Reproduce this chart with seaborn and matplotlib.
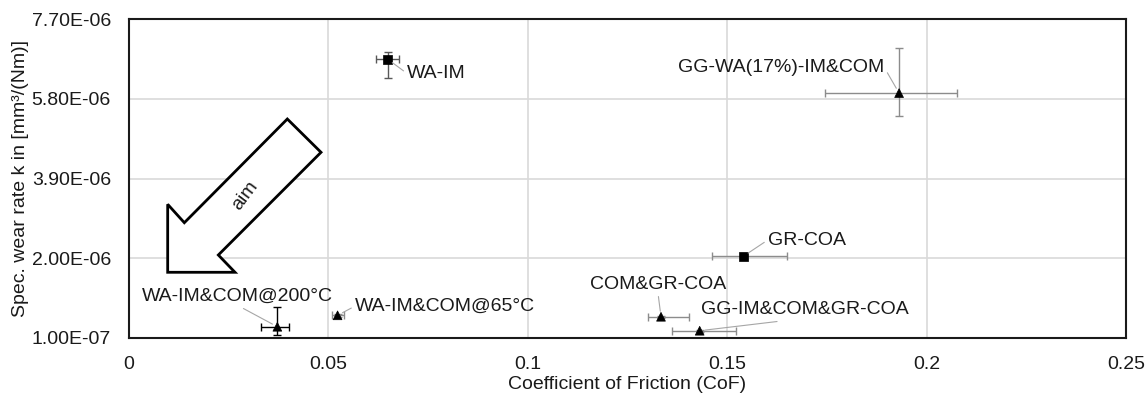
import matplotlib
matplotlib.use("Agg")
import matplotlib.pyplot as plt
import seaborn as sns
import pandas as pd
from matplotlib.patches import Polygon

# ---- data ----
names = ["WA-IM", "GG-WA(17%)-IM&COM", "GR-COA", "COM&GR-COA",
         "GG-IM&COM&GR-COA", "WA-IM&COM@200°C", "WA-IM&COM@65°C"]
cof = [0.0649, 0.1931, 0.1541, 0.1334, 0.1431, 0.0372, 0.0523]
wear = [6.74e-6, 5.935e-6, 2.05e-6, 6.06e-7, 2.73e-7, 3.68e-7, 6.4e-7]
cof_err_lo = [0.0029, 0.0185, 0.0080, 0.0033, 0.0070, 0.0040, 0.0015]
cof_err_hi = [0.0029, 0.0145, 0.0110, 0.0069, 0.0091, 0.0028, 0.0015]
wear_err_lo = [0.45e-6, 0.54e-6, 0.07e-6, 0.02e-6, 0.02e-6, 0.20e-6, 0.03e-6]
wear_err_hi = [0.18e-6, 1.07e-6, 0.07e-6, 0.02e-6, 0.02e-6, 0.46e-6, 0.03e-6]
shape = ["square", "triangle", "square", "triangle", "triangle", "triangle", "triangle"]

x_ticks = [0, 0.05, 0.1, 0.15, 0.2, 0.25]
x_ticklabels = ["0", "0.05", "0.1", "0.15", "0.2", "0.25"]
y_ticks = [1.0e-7, 2.0e-6, 3.9e-6, 5.8e-6, 7.7e-6]

# label placement (offset pixels from point) and leader anchor
label_offsets = [(19, -14), (-15, 26), (24, 16), (-3, 32), (1, 21), (-40, 30), (17, 9)]
label_ha = ["left", "right", "left", "center", "left", "center", "left"]
label_relpos = [(0, 0.5), (1, 0.5), (0, 0.5), (0.5, 0), (0.5, 0), (0.5, 0), (0, 0.5)]
err_colors = ["#595959", "#8c8c8c", "#8c8c8c", "#8c8c8c", "#8c8c8c", "#000000", "#8c8c8c"]

df = pd.DataFrame({"name": names, "cof": cof, "wear": wear, "shape": shape})

sns.set_style("white")
plt.rcParams["font.family"] = ["Liberation Sans", "DejaVu Sans"]
FS = 14

fig = plt.figure(figsize=(11.48, 3.97), dpi=100)
ax = fig.add_axes([129 / 1148, 59 / 397, 997 / 1148, 319 / 397])

# error bars
for i in range(len(names)):
    ax.errorbar([cof[i]], [wear[i]],
                xerr=[[cof_err_lo[i]], [cof_err_hi[i]]],
                yerr=[[wear_err_lo[i]], [wear_err_hi[i]]],
                fmt="none", ecolor=err_colors[i], elinewidth=1.0,
                capsize=3, capthick=1.0, zorder=3)

sns.scatterplot(data=df, x="cof", y="wear", style="shape",
                markers={"square": "s", "triangle": "^"},
                color="black", s=40, edgecolor="black", linewidth=0.5,
                legend=False, ax=ax, zorder=4)

# labels with leader lines
for i, n in enumerate(names):
    ax.annotate(n, xy=(cof[i], wear[i]), xytext=label_offsets[i],
                textcoords="offset pixels", ha=label_ha[i], va="center",
                fontsize=FS, color="#1a1a1a", zorder=5,
                arrowprops=dict(arrowstyle="-", color="#a6a6a6", lw=0.8,
                                shrinkA=0, shrinkB=4, relpos=label_relpos[i]))

ax.set_xlim(0, 0.25)
ax.set_ylim(1.0e-7, 7.7e-6)
ax.set_xticks(x_ticks)
ax.set_xticklabels(x_ticklabels)
ax.set_yticks(y_ticks)
ax.set_yticklabels([f"{v:.2E}" for v in y_ticks])
ax.tick_params(axis="both", labelsize=FS, length=0, pad=13, colors="#1a1a1a")
ax.grid(True, color="#d9d9d9", linewidth=1.2)
ax.set_axisbelow(True)
for sp in ax.spines.values():
    sp.set_color("#1a1a1a")
    sp.set_linewidth(1.5)

ax.set_xlabel("Coefficient of Friction (CoF)", fontsize=FS, color="#1a1a1a", labelpad=2)
ax.set_ylabel("Spec. wear rate k in [mm³/(Nm)]", fontsize=FS, color="#1a1a1a", labelpad=2)

# "aim" arrow (axes fraction coordinates)
arrow_pts = [(0.1588, 0.6865), (0.1926, 0.5821), (0.0896, 0.2602), (0.1063, 0.2060),
             (0.0388, 0.2060), (0.0388, 0.4191), (0.0555, 0.3614)]
ax.add_patch(Polygon(arrow_pts, closed=True, transform=ax.transAxes,
                     facecolor="white", edgecolor="black", lw=2.0, zorder=2))
ax.text(0.1167, 0.4457, "aim", transform=ax.transAxes, rotation=53,
        ha="center", va="center", fontsize=FS, color="#1a1a1a", zorder=3)

fig.savefig("out.png", dpi=100)
